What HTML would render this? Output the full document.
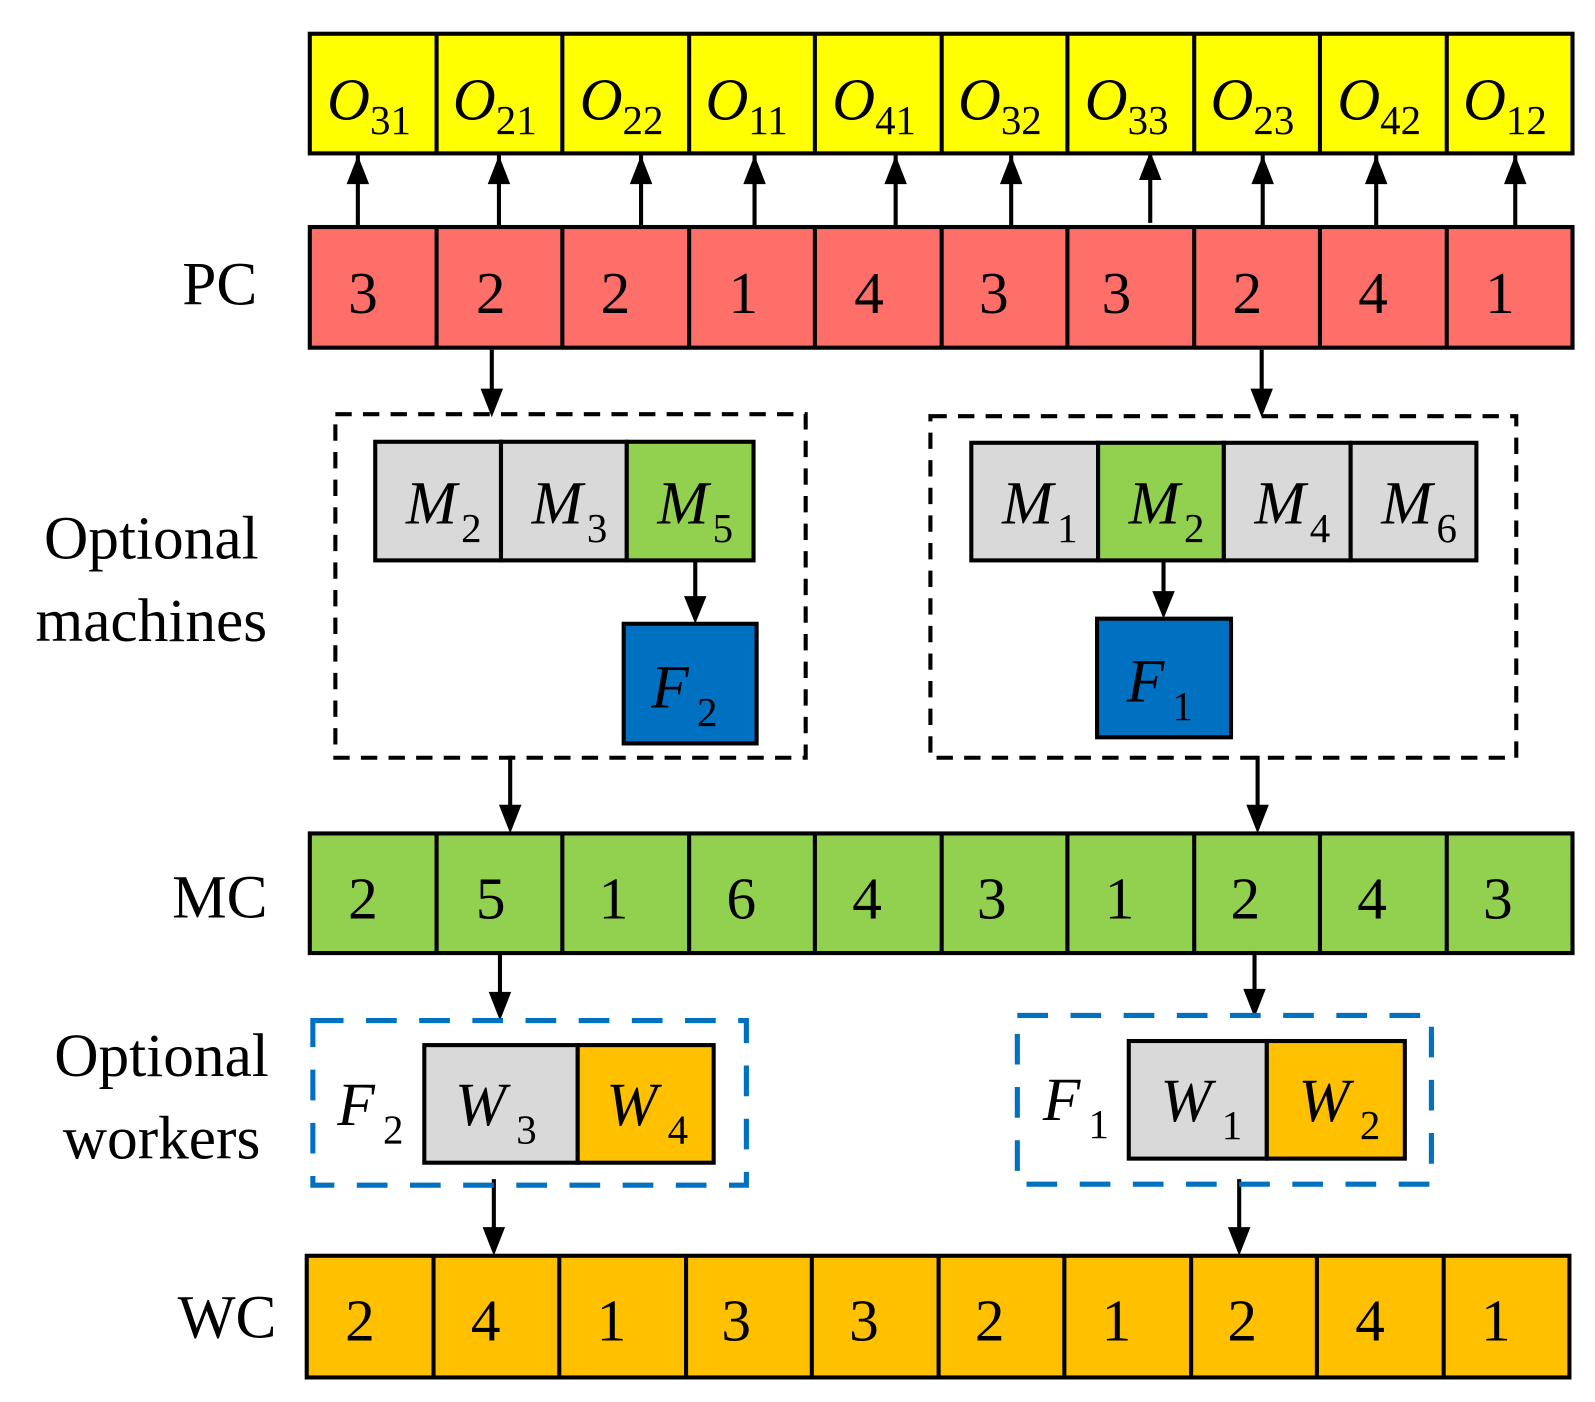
<!DOCTYPE html>
<html><head><meta charset="utf-8"><style>
html,body{margin:0;padding:0;background:#fff;}
svg{display:block;}
text{font-family:"Liberation Serif",serif;}
.n{font-size:58px;text-anchor:middle;}
.lab{font-size:60px;text-anchor:middle;}
.it{font-style:italic;}
</style></head><body>
<svg width="1595" height="1402" viewBox="0 0 1560 1371" preserveAspectRatio="none" xmlns="http://www.w3.org/2000/svg">
<defs>
<marker id="ah" markerWidth="6" markerHeight="6" refX="5" refY="3" orient="auto" markerUnits="strokeWidth">
<path d="M0,0 L6,3 L0,6 z" fill="#000"/>
</marker>
</defs>
<g stroke="#000" stroke-width="4">
<!-- yellow row -->
<rect x="303" y="33" width="1235" height="117" fill="#FFFF00"/>
<!-- PC row -->
<rect x="303" y="222" width="1235" height="118" fill="#FF6F69"/>
<!-- MC row -->
<rect x="303" y="815" width="1235" height="117" fill="#92D050"/>
<!-- WC row -->
<rect x="300" y="1228" width="1235" height="119" fill="#FFC000"/>
</g>
<g stroke="#000" stroke-width="4">
<path d="M427 33V150M550 33V150M674 33V150M797 33V150M921 33V150M1044 33V150M1168 33V150M1291 33V150M1415 33V150"/>
<path d="M427 222V340M550 222V340M674 222V340M797 222V340M921 222V340M1044 222V340M1168 222V340M1291 222V340M1415 222V340"/>
<path d="M427 815V932M550 815V932M674 815V932M797 815V932M921 815V932M1044 815V932M1168 815V932M1291 815V932M1415 815V932"/>
<path d="M424 1228V1347M547 1228V1347M671 1228V1347M794 1228V1347M918 1228V1347M1041 1228V1347M1165 1228V1347M1288 1228V1347M1412 1228V1347"/>
</g>
<!-- yellow labels -->
<g font-size="58">
<text x="320" y="117" class="it">O<tspan font-size="40" font-style="normal" dy="14">31</tspan></text>
<text x="443" y="117" class="it">O<tspan font-size="40" font-style="normal" dy="14">21</tspan></text>
<text x="567" y="117" class="it">O<tspan font-size="40" font-style="normal" dy="14">22</tspan></text>
<text x="690" y="117" class="it">O<tspan font-size="40" font-style="normal" dy="14">11</tspan></text>
<text x="814" y="117" class="it">O<tspan font-size="40" font-style="normal" dy="14">41</tspan></text>
<text x="937" y="117" class="it">O<tspan font-size="40" font-style="normal" dy="14">32</tspan></text>
<text x="1061" y="117" class="it">O<tspan font-size="40" font-style="normal" dy="14">33</tspan></text>
<text x="1184" y="117" class="it">O<tspan font-size="40" font-style="normal" dy="14">23</tspan></text>
<text x="1308" y="117" class="it">O<tspan font-size="40" font-style="normal" dy="14">42</tspan></text>
<text x="1431" y="117" class="it">O<tspan font-size="40" font-style="normal" dy="14">12</tspan></text>
</g>
<!-- PC numbers -->
<g class="n">
<text class="n" x="355" y="306">3</text><text class="n" x="480" y="306">2</text><text class="n" x="602" y="306">2</text><text class="n" x="727" y="306">1</text><text class="n" x="850" y="306">4</text><text class="n" x="972" y="306">3</text><text class="n" x="1092" y="306">3</text><text class="n" x="1220" y="306">2</text><text class="n" x="1343" y="306">4</text><text class="n" x="1467" y="306">1</text>
<text class="n" x="355" y="898">2</text><text class="n" x="480" y="898">5</text><text class="n" x="600" y="898">1</text><text class="n" x="725" y="898">6</text><text class="n" x="848" y="898">4</text><text class="n" x="970" y="898">3</text><text class="n" x="1095" y="898">1</text><text class="n" x="1218" y="898">2</text><text class="n" x="1342" y="898">4</text><text class="n" x="1465" y="898">3</text>
<text class="n" x="352" y="1311">2</text><text class="n" x="475" y="1311">4</text><text class="n" x="598" y="1311">1</text><text class="n" x="720" y="1311">3</text><text class="n" x="845" y="1311">3</text><text class="n" x="968" y="1311">2</text><text class="n" x="1092" y="1311">1</text><text class="n" x="1215" y="1311">2</text><text class="n" x="1340" y="1311">4</text><text class="n" x="1463" y="1311">1</text>
</g>
<!-- row labels -->
<text class="lab" x="215" y="298">PC</text>
<text class="lab" x="148" y="546">Optional</text>
<text class="lab" x="148" y="627">machines</text>
<text class="lab" x="215" y="897">MC</text>
<text class="lab" x="158" y="1052">Optional</text>
<text class="lab" x="158" y="1133">workers</text>
<text class="lab" x="222" y="1308">WC</text>
<!-- arrows up PC->O -->
<g stroke="#000" stroke-width="4" fill="none">
<path d="M350 222V152M488 222V152M627 222V152M738 222V152M876 222V152M989 222V152M1125 218V148M1235 222V152M1346 222V152M1482 222V152" />
</g>
<g fill="#000">
<path d="M339 180L350 152L361 180z"/><path d="M477 180L488 152L499 180z"/><path d="M616 180L627 152L638 180z"/><path d="M727 180L738 152L749 180z"/><path d="M865 180L876 152L887 180z"/><path d="M978 180L989 152L1000 180z"/><path d="M1114 176L1125 148L1136 176z"/><path d="M1224 180L1235 152L1246 180z"/><path d="M1335 180L1346 152L1357 180z"/><path d="M1471 180L1482 152L1493 180z"/>
</g>
<!-- down arrows -->
<g stroke="#000" stroke-width="4">
<path d="M481 342V385M1234 342V385M680 548V592M1138 548V587M499 739V795M1230 739V795M489 932V978M1227 930V975M483 1153V1208M1212 1153V1208"/>
</g>
<g fill="#000">
<path d="M470 380L481 408L492 380z"/><path d="M1223 380L1234 408L1245 380z"/>
<path d="M669 583L680 610L691 583z"/><path d="M1127 578L1138 605L1149 578z"/>
<path d="M488 787L499 815L510 787z"/><path d="M1219 787L1230 815L1241 787z"/>
<path d="M478 970L489 998L500 970z"/><path d="M1216 967L1227 995L1238 967z"/>
<path d="M472 1200L483 1228L494 1200z"/><path d="M1201 1200L1212 1228L1223 1200z"/>
</g>
<!-- dashed boxes -->
<rect x="328" y="405" width="460" height="336" fill="none" stroke="#000" stroke-width="4" stroke-dasharray="16,11"/>
<rect x="910" y="407" width="573" height="334" fill="none" stroke="#000" stroke-width="4" stroke-dasharray="16,11"/>
<rect x="306" y="998" width="424" height="161" fill="none" stroke="#0070C0" stroke-width="5" stroke-dasharray="30,22"/>
<rect x="995" y="993" width="405" height="165" fill="none" stroke="#0070C0" stroke-width="5" stroke-dasharray="30,22"/>
<!-- machine boxes -->
<g stroke="#000" stroke-width="4">
<rect x="367" y="432" width="123" height="116" fill="#D9D9D9"/>
<rect x="490" y="432" width="123" height="116" fill="#D9D9D9"/>
<rect x="613" y="432" width="124" height="116" fill="#92D050"/>
<rect x="610" y="610" width="130" height="117" fill="#0070C0"/>
<rect x="950" y="433" width="124" height="115" fill="#D9D9D9"/>
<rect x="1074" y="433" width="123" height="115" fill="#92D050"/>
<rect x="1197" y="433" width="124" height="115" fill="#D9D9D9"/>
<rect x="1321" y="433" width="123" height="115" fill="#D9D9D9"/>
<rect x="1073" y="605" width="131" height="116" fill="#0070C0"/>
<rect x="415" y="1022" width="150" height="115" fill="#D9D9D9"/>
<rect x="565" y="1022" width="133" height="115" fill="#FFC000"/>
<rect x="1104" y="1018" width="135" height="115" fill="#D9D9D9"/>
<rect x="1239" y="1018" width="135" height="115" fill="#FFC000"/>
</g>
<g font-size="60">
<text x="397" y="512" class="it">M<tspan font-size="40" font-style="normal" dy="18" dx="4">2</tspan></text>
<text x="520" y="512" class="it">M<tspan font-size="40" font-style="normal" dy="18" dx="4">3</tspan></text>
<text x="643" y="512" class="it">M<tspan font-size="40" font-style="normal" dy="18" dx="4">5</tspan></text>
<text x="637" y="692" class="it">F<tspan font-size="40" font-style="normal" dy="18" dx="8">2</tspan></text>
<text x="980" y="512" class="it">M<tspan font-size="40" font-style="normal" dy="18" dx="4">1</tspan></text>
<text x="1104" y="512" class="it">M<tspan font-size="40" font-style="normal" dy="18" dx="4">2</tspan></text>
<text x="1227" y="512" class="it">M<tspan font-size="40" font-style="normal" dy="18" dx="4">4</tspan></text>
<text x="1351" y="512" class="it">M<tspan font-size="40" font-style="normal" dy="18" dx="4">6</tspan></text>
<text x="1102" y="686" class="it">F<tspan font-size="40" font-style="normal" dy="18" dx="8">1</tspan></text>
<text x="330" y="1100" class="it">F<tspan font-size="40" font-style="normal" dy="18" dx="8">2</tspan></text>
<text x="445" y="1100" class="it">W<tspan font-size="40" font-style="normal" dy="18" dx="10">3</tspan></text>
<text x="593" y="1100" class="it">W<tspan font-size="40" font-style="normal" dy="18" dx="10">4</tspan></text>
<text x="1020" y="1095" class="it">F<tspan font-size="40" font-style="normal" dy="18" dx="8">1</tspan></text>
<text x="1135" y="1096" class="it">W<tspan font-size="40" font-style="normal" dy="18" dx="10">1</tspan></text>
<text x="1270" y="1096" class="it">W<tspan font-size="40" font-style="normal" dy="18" dx="10">2</tspan></text>
</g>
</svg>
</body></html>
